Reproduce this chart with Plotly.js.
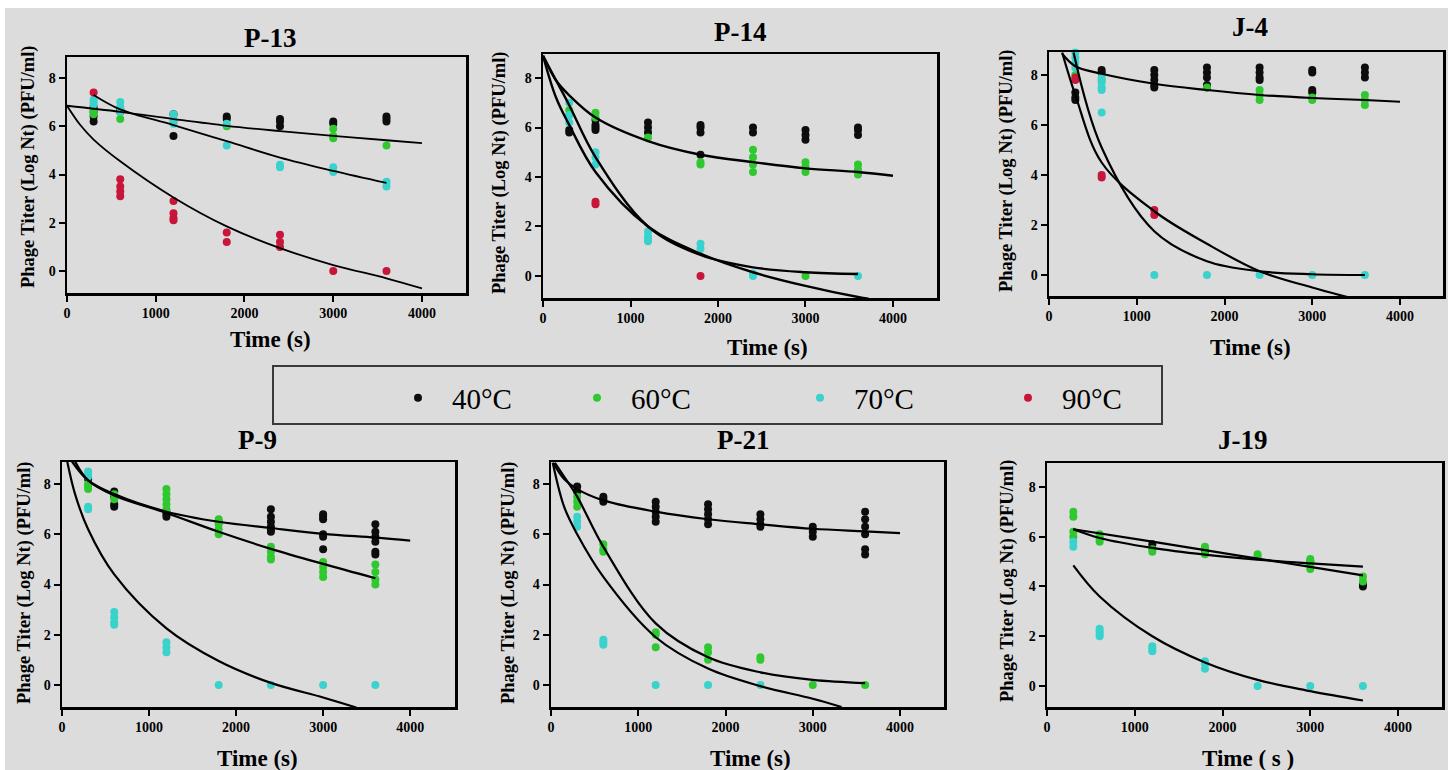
<!DOCTYPE html>
<html>
<head>
<meta charset="utf-8">
<script src="https://cdn.plot.ly/plotly-3.0.1.min.js"></script>
<style>
  html, body { margin: 0; padding: 0; background: #ffffff; }
  #chart { width: 1448px; height: 770px; }
</style>
</head>
<body>
<div id="chart"></div>
<script>
// ---------------- DATA ----------------
const TIMES = [300, 600, 1200, 1800, 2400, 3000, 3600];
const TEMPS = ['40°C', '60°C', '70°C', '90°C'];
const PANEL_TITLES = ['P-13', 'P-14', 'J-4', 'P-9', 'P-21', 'J-19'];
const X_TICKS = [0, 1000, 2000, 3000, 4000];
const Y_TICKS = [0, 2, 4, 6, 8];

// replicate titers (log Nt) at each time of TIMES
const P13_40 = [[6.2, 6.4, 6.6, 6.8], [6.6, 6.7], [6.5, 5.6], [6.3, 6.4], [6.0, 6.2, 6.3], [6.1, 6.2], [6.2, 6.3, 6.4]];
const P13_60 = [[6.5, 6.6], [6.3], [6.2], [6.0], [], [5.5, 5.6, 5.9], [5.2]];
const P13_70 = [[6.9, 7.0, 7.1], [6.6, 6.8, 7.0], [6.1, 6.3, 6.5], [5.2, 6.1], [4.3, 4.4], [4.1, 4.3], [3.5, 3.7]];
const P13_90 = [[7.4], [3.1, 3.3, 3.5, 3.8], [2.1, 2.2, 2.4, 2.9], [1.2, 1.6], [1.0, 1.2, 1.5], [0.0], [0.0]];

const P14_40 = [[5.8, 5.9], [5.9, 6.0, 6.1, 6.3], [5.8, 6.0, 6.2], [4.9, 5.8, 6.0, 6.1], [5.8, 6.0], [5.5, 5.7, 5.9], [5.7, 5.9, 6.0]];
const P14_60 = [[6.5, 6.7], [6.4, 6.6], [5.6], [4.5, 4.6], [4.2, 4.5, 4.8, 5.1], [4.2, 4.4, 4.6, 0.0], [4.1, 4.3, 4.5]];
const P14_70 = [[6.2, 6.5, 7.0], [4.5, 4.8, 5.0], [1.4, 1.5, 1.6, 1.8], [1.1, 1.3], [0.0, 0.1], [], [0.0]];
const P14_90 = [[], [2.9, 3.0], [], [0.0], [], [], []];

const J4_40 = [[7.0, 7.1, 7.3], [8.1, 8.2], [7.5, 7.6, 7.8, 8.0, 8.2], [7.5, 7.6, 7.9, 8.1, 8.3], [7.8, 7.9, 8.1, 8.3], [7.3, 7.4, 8.1, 8.2], [7.9, 8.1, 8.3]];
const J4_60 = [[8.0], [7.8], [], [7.5], [7.0, 7.2, 7.4], [7.0, 7.1], [6.8, 7.0, 7.2]];
const J4_70 = [[8.3, 8.5, 8.7, 8.9], [6.5, 7.4, 7.5, 7.7, 7.9], [0.0], [0.0], [0.0], [0.0], [0.0]];
const J4_90 = [[7.8, 7.9], [3.9, 4.0], [2.4, 2.6], [], [], [], []];

const P9_40 = [[8.2], [7.1, 7.2, 7.5, 7.7], [6.7, 6.8, 6.9], [6.5], [6.1, 6.2, 6.3, 6.5, 6.7, 7.0], [5.4, 5.9, 6.0, 6.6, 6.7, 6.8], [5.2, 5.3, 5.7, 5.9, 6.1, 6.4]];
const P9_60 = [[7.8, 7.9, 8.0], [7.4, 7.6], [7.0, 7.2, 7.4, 7.6, 7.8], [6.0, 6.2, 6.4, 6.6], [5.0, 5.1, 5.3, 5.5], [4.3, 4.5, 4.7, 4.9], [4.0, 4.2, 4.5, 4.8]];
const P9_70 = [[7.0, 7.1, 8.3, 8.4, 8.5], [2.4, 2.5, 2.7, 2.9], [1.3, 1.5, 1.7], [0.0], [0.0], [0.0], [0.0]];
const P9_90 = [[], [], [], [], [], [], []];

const P21_40 = [[7.7, 7.9], [7.3, 7.4, 7.5], [6.5, 6.7, 6.9, 7.1, 7.3], [6.4, 6.6, 6.8, 7.0, 7.2], [6.3, 6.4, 6.6, 6.8], [5.9, 6.1, 6.3], [5.2, 5.4, 6.0, 6.3, 6.6, 6.9]];
const P21_60 = [[7.1, 7.3, 7.5], [5.3, 5.4, 5.6], [1.5, 2.0, 2.1], [1.0, 1.3, 1.5], [1.0, 1.1], [0.0], [0.0]];
const P21_70 = [[6.3, 6.5, 6.7], [1.6, 1.7, 1.8], [0.0], [0.0], [0.0], [], []];
const P21_90 = [[], [], [], [], [], [], []];

const J19_40 = [[], [], [5.7], [5.4], [], [5.0], [4.0, 4.1]];
const J19_60 = [[6.0, 6.2, 6.8, 7.0], [5.8, 5.9, 6.0, 6.1], [5.4, 5.5], [5.3, 5.5, 5.6], [5.2, 5.3], [4.7, 4.9, 5.0, 5.1], [4.2, 4.4]];
const J19_70 = [[5.6, 5.8], [2.0, 2.1, 2.2, 2.3], [1.4, 1.5, 1.6], [0.7, 0.9, 1.0], [0.0], [0.0], [0.0]];
const J19_90 = [[], [], [], [], [], [], []];

// fitted inactivation curves (read at several times)
const P13_FIT1_X = [0, 600, 1200, 1800, 2400, 3000, 3600, 4000];
const P13_FIT1_Y = [6.85, 6.6, 6.3, 6.02, 5.8, 5.6, 5.42, 5.3];
const P13_FIT2_X = [300, 600, 1200, 1800, 2400, 3000, 3600];
const P13_FIT2_Y = [7.3, 6.7, 6.05, 5.38, 4.7, 4.15, 3.65];
const P13_FIT3_X = [0, 150, 300, 600, 1200, 1800, 2400, 3000, 3600, 4000];
const P13_FIT3_Y = [6.85, 6.05, 5.45, 4.55, 3.05, 1.85, 0.95, 0.25, -0.3, -0.72];

const P14_FIT1_X = [0, 150, 300, 600, 1200, 1800, 2400, 3000, 3600, 4000];
const P14_FIT1_Y = [8.9, 7.9, 7.3, 6.4, 5.45, 4.9, 4.6, 4.35, 4.2, 4.05];
const P14_FIT2_X = [0, 150, 300, 600, 1200, 1800, 2400, 3000, 3600];
const P14_FIT2_Y = [8.9, 7.9, 6.9, 4.8, 2.0, 0.85, 0.35, 0.15, 0.08];
const P14_FIT3_X = [0, 150, 300, 600, 1200, 1800, 2400, 3000, 3600, 3720];
const P14_FIT3_Y = [8.9, 7.2, 6.1, 4.2, 2.0, 0.9, 0.15, -0.4, -0.85, -0.92];

const J4_FIT1_X = [150, 300, 600, 1200, 1800, 2400, 3000, 3600, 4000];
const J4_FIT1_Y = [8.85, 8.35, 8.05, 7.65, 7.4, 7.2, 7.08, 7.0, 6.93];
const J4_FIT2_X = [280, 600, 1200, 1800, 2400, 3000, 3600];
const J4_FIT2_Y = [8.9, 5.1, 1.75, 0.55, 0.15, 0.03, 0.0];
const J4_FIT3_X = [150, 300, 600, 1200, 1800, 2400, 3000, 3420];
const J4_FIT3_Y = [8.9, 7.2, 4.5, 2.55, 1.25, 0.15, -0.5, -0.9];

const P9_FIT1_X = [115, 300, 600, 1200, 1800, 2400, 3000, 3600, 4000];
const P9_FIT1_Y = [8.9, 8.15, 7.6, 6.9, 6.5, 6.25, 6.02, 5.87, 5.75];
const P9_FIT2_X = [150, 300, 600, 1200, 1800, 2400, 3000, 3600];
const P9_FIT2_Y = [8.9, 8.15, 7.55, 6.85, 6.1, 5.42, 4.82, 4.25];
const P9_FIT3_X = [60, 150, 300, 600, 1200, 1800, 2400, 3000, 3380];
const P9_FIT3_Y = [8.9, 7.6, 6.2, 4.4, 2.25, 0.95, 0.08, -0.5, -0.9];

const P21_FIT1_X = [25, 150, 300, 600, 1200, 1800, 2400, 3000, 3600, 4000];
const P21_FIT1_Y = [8.85, 8.2, 7.8, 7.35, 6.9, 6.6, 6.4, 6.22, 6.12, 6.05];
const P21_FIT2_X = [45, 150, 300, 600, 1200, 1800, 2400, 3000, 3600];
const P21_FIT2_Y = [8.85, 8.3, 7.5, 5.5, 2.45, 1.1, 0.5, 0.2, 0.07];
const P21_FIT3_X = [20, 150, 300, 600, 1200, 1800, 2400, 3000, 3330];
const P21_FIT3_Y = [8.85, 7.1, 6.0, 4.3, 1.9, 0.65, -0.05, -0.55, -0.88];

const J19_FIT1_X = [300, 1200, 1800, 2400, 3000, 3600];
const J19_FIT1_Y = [6.3, 5.8, 5.46, 5.12, 4.79, 4.45];
const J19_FIT2_X = [300, 600, 1200, 1800, 2400, 3000, 3600];
const J19_FIT2_Y = [6.3, 5.95, 5.55, 5.28, 5.08, 4.93, 4.8];
const J19_FIT3_X = [300, 600, 1200, 1800, 2400, 3000, 3600];
const J19_FIT3_Y = [4.85, 3.6, 2.0, 0.95, 0.25, -0.2, -0.58];

// ---------------- STYLE / LAYOUT ----------------
const FONT = '"Liberation Serif", "Times New Roman", serif';
const COLORS = ['#0d0d0d', '#2fc92f', '#3ad2cc', '#c8153a'];
const W = 1448, H = 770;
const px = v => v / W;
const py = v => 1 - v / H;

const PANELS = [
  { pts: [P13_40, P13_60, P13_70, P13_90], fits: [[P13_FIT1_X, P13_FIT1_Y], [P13_FIT2_X, P13_FIT2_Y], [P13_FIT3_X, P13_FIT3_Y]], fw: 1.8,
    dx: [67, 466], dy: [57, 293], xr: [0, 4496], yr: [-0.91, 8.87], title: [270, 38], xt: [270, 340], yt: [28, 167] },
  { pts: [P14_40, P14_60, P14_70, P14_90], fits: [[P14_FIT1_X, P14_FIT1_Y], [P14_FIT2_X, P14_FIT2_Y], [P14_FIT3_X, P14_FIT3_Y]], fw: 2.4,
    dx: [543, 937], dy: [54, 298], xr: [0, 4503], yr: [-0.89, 8.97], title: [740, 32], xt: [767, 348], yt: [499, 173] },
  { pts: [J4_40, J4_60, J4_70, J4_90], fits: [[J4_FIT1_X, J4_FIT1_Y], [J4_FIT2_X, J4_FIT2_Y], [J4_FIT3_X, J4_FIT3_Y]], fw: 2.2,
    dx: [1049, 1443], dy: [52, 296], xr: [0, 4490], yr: [-0.84, 8.92], title: [1250, 27], xt: [1250, 348], yt: [1007, 170] },
  { pts: [P9_40, P9_60, P9_70, P9_90], fits: [[P9_FIT1_X, P9_FIT1_Y], [P9_FIT2_X, P9_FIT2_Y], [P9_FIT3_X, P9_FIT3_Y]], fw: 2.2,
    dx: [62, 455], dy: [462, 707], xr: [0, 4515], yr: [-0.88, 8.88], title: [257, 440], xt: [257, 758], yt: [24, 583] },
  { pts: [P21_40, P21_60, P21_70, P21_90], fits: [[P21_FIT1_X, P21_FIT1_Y], [P21_FIT2_X, P21_FIT2_Y], [P21_FIT3_X, P21_FIT3_Y]], fw: 2.2,
    dx: [551, 944], dy: [462, 707], xr: [0, 4504], yr: [-0.88, 8.88], title: [743, 440], xt: [750, 758], yt: [508, 583] },
  { pts: [J19_40, J19_60, J19_70, J19_90], fits: [[J19_FIT1_X, J19_FIT1_Y], [J19_FIT2_X, J19_FIT2_Y], [J19_FIT3_X, J19_FIT3_Y]], fw: 2.2,
    dx: [1047, 1442], dy: [463, 707], xr: [0, 4501], yr: [-0.84, 8.96], title: [1243, 440], xt: [1248, 758], yt: [1007, 580],
    xtitle: 'Time ( s )' }
];

const LEGEND_NAMES = ['legend', 'legend2', 'legend3', 'legend4'];
const LEGEND_DOT_X = [418, 597, 820, 1028];
const LEGEND_ITEM_W = 58;

function expand(reps) {
  const x = [], y = [];
  reps.forEach((vals, i) => vals.forEach(v => { x.push(TIMES[i]); y.push(v); }));
  return { x, y };
}

const traces = [];
const layout = {
  width: W, height: H,
  margin: { l: 0, r: 0, t: 0, b: 0 },
  paper_bgcolor: '#ffffff',
  plot_bgcolor: 'rgba(0,0,0,0)',
  font: { family: FONT, color: '#000' },
  showlegend: true,
  annotations: [],
  shapes: [
    { type: 'rect', xref: 'paper', yref: 'paper', x0: px(5), x1: 1, y0: 0, y1: py(8),
      fillcolor: '#dcdcdc', line: { width: 0 }, layer: 'below' },
    { type: 'rect', xref: 'paper', yref: 'paper', x0: px(273), x1: px(1162), y0: py(424), y1: py(366),
      fillcolor: 'rgba(0,0,0,0)', line: { color: '#3a3a3a', width: 2 }, layer: 'above' }
  ]
};

PANELS.forEach((p, k) => {
  const n = k === 0 ? '' : String(k + 1);
  const xa = 'x' + n, ya = 'y' + n;
  p.pts.forEach((reps, t) => {
    const d = expand(reps);
    const isLeg = k === 0;
    traces.push({
      type: 'scatter', mode: 'markers', x: d.x, y: d.y, xaxis: xa, yaxis: ya,
      name: TEMPS[t], showlegend: isLeg, legend: LEGEND_NAMES[t],
      marker: { color: COLORS[t], size: 8, line: { width: 0 } },
      cliponaxis: false, hoverinfo: 'x+y'
    });
  });
  p.fits.forEach(f => {
    traces.push({
      type: 'scatter', mode: 'lines', x: f[0], y: f[1], xaxis: xa, yaxis: ya,
      showlegend: false, line: { color: '#000', width: p.fw, shape: 'spline', smoothing: 1 },
      hoverinfo: 'skip'
    });
  });
  const common = {
    showgrid: false, zeroline: false, showline: true, linecolor: '#000', linewidth: 2.5,
    mirror: true, ticks: 'outside', ticklen: 6, tickwidth: 2, tickcolor: '#000',
    tickfont: { family: FONT, size: 14, color: '#000', weight: 'bold' }, fixedrange: true
  };
  layout['xaxis' + n] = Object.assign({}, common, {
    domain: [px(p.dx[0]), px(p.dx[1])], range: p.xr, anchor: ya, tickvals: X_TICKS, ticktext: X_TICKS.map(String)
  });
  layout['yaxis' + n] = Object.assign({}, common, {
    domain: [py(p.dy[1]), py(p.dy[0])], range: p.yr, anchor: xa, tickvals: Y_TICKS, ticktext: Y_TICKS.map(String)
  });
  layout.annotations.push(
    { text: PANEL_TITLES[k], x: px(p.title[0]), y: py(p.title[1]), xref: 'paper', yref: 'paper',
      xanchor: 'center', yanchor: 'middle', showarrow: false,
      font: { family: FONT, size: 27, color: '#000', weight: 'bold' } },
    { text: p.xtitle || 'Time (s)', x: px(p.xt[0]), y: py(p.xt[1]), xref: 'paper', yref: 'paper',
      xanchor: 'center', yanchor: 'middle', showarrow: false,
      font: { family: FONT, size: 23, color: '#000', weight: 'bold' } },
    { text: 'Phage Titer (Log Nt) (PFU/ml)', x: px(p.yt[0]), y: py(p.yt[1]), xref: 'paper', yref: 'paper',
      xanchor: 'center', yanchor: 'middle', showarrow: false, textangle: -90,
      font: { family: FONT, size: 18.5, color: '#000', weight: 'bold' } }
  );
});

LEGEND_NAMES.forEach((ln, i) => {
  layout[ln] = {
    x: px(LEGEND_DOT_X[i] - (5 + LEGEND_ITEM_W / 2)), xanchor: 'left', y: py(398), yanchor: 'middle',
    orientation: 'h', bgcolor: 'rgba(0,0,0,0)', borderwidth: 0, itemwidth: LEGEND_ITEM_W,
    itemclick: false, itemdoubleclick: false,
    font: { family: FONT, size: 29, color: '#000' }
  };
});

Plotly.newPlot('chart', traces, layout, { displayModeBar: false, staticPlot: true });
</script>
</body>
</html>
